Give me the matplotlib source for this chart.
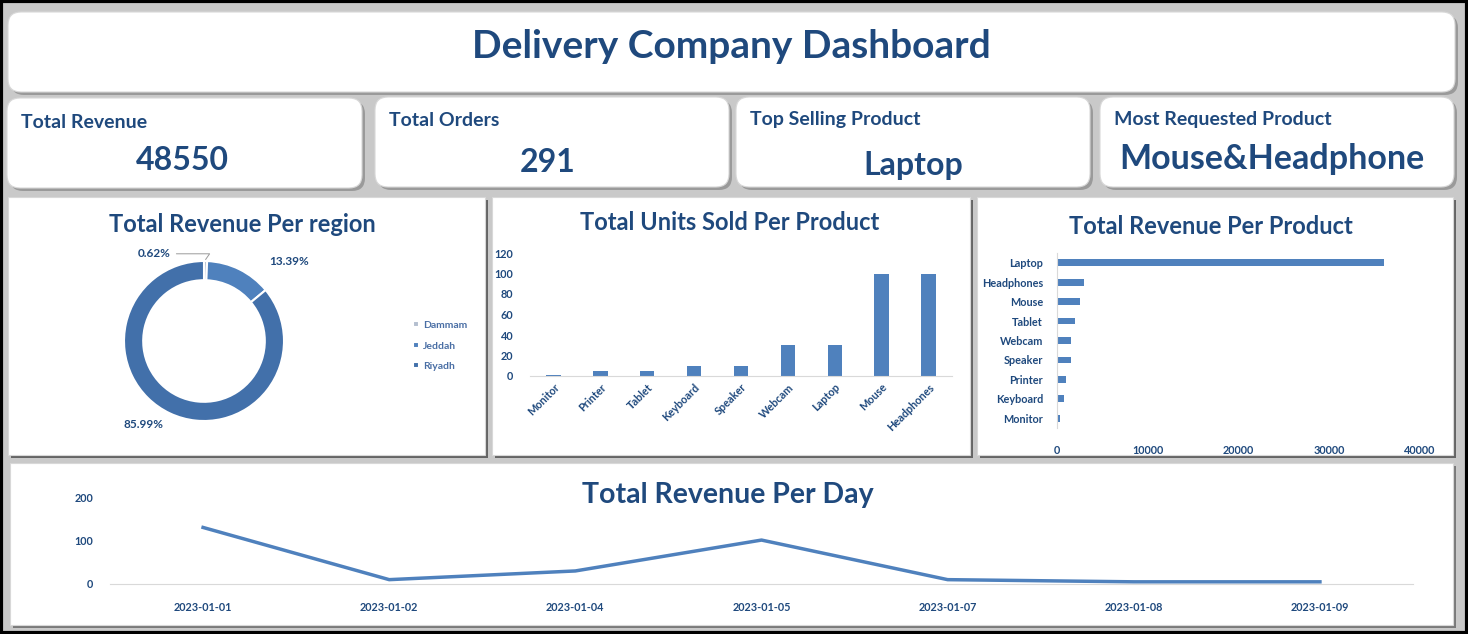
import matplotlib
matplotlib.use('Agg')
import matplotlib.pyplot as plt
from matplotlib.patches import FancyBboxPatch, Rectangle

# canvas size in pixels (saved at dpi=100)
W, H = 1468, 634

kpi_labels = ['Total Revenue', 'Total Orders', 'Top Selling Product', 'Most Requested Product']
kpi_values = ['48550', '291', 'Laptop', 'Mouse&Headphone']

regions = ['Dammam', 'Jeddah', 'Riyadh']
region_revenue = [300, 6500, 41750]

units_products = ['Monitor', 'Printer', 'Tablet', 'Keyboard', 'Speaker',
                  'Webcam', 'Laptop', 'Mouse', 'Headphones']
units_sold = [1, 5, 5, 10, 10, 30, 30, 100, 100]

rev_products = ['Monitor', 'Keyboard', 'Printer', 'Speaker', 'Webcam',
                'Tablet', 'Mouse', 'Headphones', 'Laptop']
product_revenue = [300, 750, 1000, 1500, 1500, 2000, 2500, 3000, 36000]

days = ['2023-01-01', '2023-01-02', '2023-01-04', '2023-01-05',
        '2023-01-07', '2023-01-08', '2023-01-09']
day_revenue = [130, 10, 30, 101, 10, 5, 5]

NAVY = '#1F497D'
BLUE = '#4F81BD'
FONT = 'Lato'

plt.rcParams['font.family'] = [FONT, 'DejaVu Sans']
plt.rcParams['font.weight'] = 'bold'

fig = plt.figure(figsize=(W / 100, H / 100), dpi=100)


# axes placed by pixel box (left, top, right, bottom)
def px_axes(x0, y0, x1, y1):
    return fig.add_axes([x0 / W, 1 - y1 / H, (x1 - x0) / W, (y1 - y0) / H])


# background layer drawn in pixel coordinates
bg = fig.add_axes([0, 0, 1, 1])
bg.set_xlim(0, W)
bg.set_ylim(H, 0)
bg.axis('off')
bg.add_patch(Rectangle((0, 0), W, H, color='#c9c9c9', zorder=0))


def card(x0, y0, x1, y1, rounded=True, shadow='#9a9a9a'):
    if rounded:
        style = 'round,pad=0,rounding_size=13'
    else:
        style = 'square,pad=0'
    bg.add_patch(FancyBboxPatch((x0 + 3, y0 + 3), x1 - x0, y1 - y0, boxstyle=style,
                                fc=shadow, ec='none', zorder=1))
    bg.add_patch(FancyBboxPatch((x0, y0), x1 - x0, y1 - y0, boxstyle=style,
                                fc='white', ec='#d8d8d8', lw=0.8, zorder=2))


card(8, 12, 1455, 92)
kpi_boxes = [(7, 98, 362, 188), (375, 97, 729, 187), (736, 97, 1090, 187), (1100, 97, 1454, 187)]
for b in kpi_boxes:
    card(*b)
card(8, 197, 485, 455, rounded=False, shadow='#656565')
card(492, 197, 970, 455, rounded=False, shadow='#656565')
card(977, 197, 1453, 455, rounded=False, shadow='#656565')
card(10, 463, 1453, 625, rounded=False, shadow='#7a7a7a')

# outer black frame
bg.add_patch(Rectangle((1, 1), W - 2, H - 2, fill=False, ec='black', lw=3, zorder=5))

bg.text(731, 47, 'Delivery Company Dashboard', ha='center', va='center',
        fontsize=28, fontweight='bold', color=NAVY, zorder=3)

# KPI cards
label_pos = [(21, 122), (389, 120), (750, 119), (1114, 119)]
value_pos = [(182, 160), (548, 162), (913, 166), (1272, 159)]
value_size = [23, 23, 23, 24.5]
for lab, val, lp, vp, vs in zip(kpi_labels, kpi_values, label_pos, value_pos, value_size):
    bg.text(lp[0], lp[1], lab, ha='left', va='center', fontsize=14,
            fontweight='bold', color=NAVY, zorder=3)
    bg.text(vp[0], vp[1], val, ha='center', va='center', fontsize=vs,
            fontweight='bold', color=NAVY, zorder=3)

# chart titles
bg.text(242, 225, 'Total Revenue Per region', ha='center', va='center',
        fontsize=17, fontweight='bold', color=NAVY, zorder=3)
bg.text(730, 223, 'Total Units Sold Per Product', ha='center', va='center',
        fontsize=17, fontweight='bold', color=NAVY, zorder=3)
bg.text(1211, 227, 'Total Revenue Per Product', ha='center', va='center',
        fontsize=17, fontweight='bold', color=NAVY, zorder=3)
bg.text(728, 495, 'Total Revenue Per Day', ha='center', va='center',
        fontsize=20.5, fontweight='bold', color=NAVY, zorder=3)

# ---- donut: revenue per region
ax1 = px_axes(124, 261, 284, 421)
total = sum(region_revenue)
wedges, _ = ax1.pie(region_revenue, startangle=90, counterclock=False,
                    colors=['#b4bfcf', BLUE, '#4270AA'],
                    wedgeprops=dict(width=0.24, edgecolor='white', linewidth=1.5))
ax1.set_xlim(-1, 1)
ax1.set_ylim(-1, 1)
pct = [f'{v / total * 100:.2f}%' for v in region_revenue]
ax1.annotate(pct[0], xy=(0.0, 0.99), xytext=(-0.62, 1.09), ha='center', va='center',
             fontsize=8.5, color=NAVY, fontweight='bold',
             arrowprops=dict(arrowstyle='-', color='#9a9a9a', lw=0.7,
                             connectionstyle='angle,angleA=0,angleB=55,rad=0'))
ax1.text(1.07, 0.99, pct[1], ha='center', va='center', fontsize=8.5,
         color=NAVY, fontweight='bold')
ax1.text(-0.76, -1.04, pct[2], ha='center', va='center', fontsize=8.5,
         color=NAVY, fontweight='bold')
ax1.legend(wedges, regions, loc='center left', bbox_to_anchor=(404 / W, 1 - 346 / H),
           bbox_transform=fig.transFigure, frameon=False, fontsize=7.5,
           handlelength=0.5, handleheight=0.5, handletextpad=0.4,
           labelspacing=1.1, labelcolor='#4a6fa5')

# ---- units sold per product
ax2 = px_axes(530, 253, 952, 376)
ax2.bar(range(len(units_products)), units_sold, width=0.31, color=BLUE)
ax2.set_xlim(-0.5, len(units_products) - 0.5)
ax2.set_ylim(0, 120)
ax2.set_yticks(range(0, 121, 20))
ax2.set_xticks(range(len(units_products)))
ax2.set_xticklabels(units_products, rotation=45, ha='right', rotation_mode='anchor')

# ---- revenue per product (horizontal)
ax3 = px_axes(1057, 253, 1420, 428)
ax3.barh(range(len(rev_products)), product_revenue, height=0.35, color=BLUE)
ax3.set_ylim(-0.5, len(rev_products) - 0.5)
ax3.set_xlim(0, 40000)
ax3.set_xticks(range(0, 40001, 10000))
ax3.set_yticks(range(len(rev_products)))
ax3.set_yticklabels(rev_products)

# ---- revenue per day
ax4 = px_axes(110, 497, 1413, 584)
ax4.plot(range(len(days)), day_revenue, color=BLUE, lw=2.5)
ax4.set_xlim(-0.5, len(days) - 0.5)
ax4.set_ylim(0, 200)
ax4.set_yticks([0, 100, 200])
ax4.set_xticks(range(len(days)))
ax4.set_xticklabels(days)

for ax in (ax2, ax3, ax4):
    ax.set_facecolor('none')
    for s in ax.spines.values():
        s.set_visible(False)
    ax.tick_params(length=0, labelsize=7.8, labelcolor=NAVY)
for ax in (ax2, ax4):
    ax.spines['bottom'].set_visible(True)
    ax.spines['bottom'].set_color('#d9d9d9')
ax3.spines['left'].set_visible(True)
ax3.spines['left'].set_color('#d9d9d9')
ax2.tick_params(axis='x', pad=4)
ax2.tick_params(axis='y', pad=12)
ax3.tick_params(axis='x', pad=12)
ax3.tick_params(axis='y', pad=10)
ax4.tick_params(axis='x', pad=13)
ax4.tick_params(axis='y', pad=12)

fig.savefig('out.png', dpi=100)
